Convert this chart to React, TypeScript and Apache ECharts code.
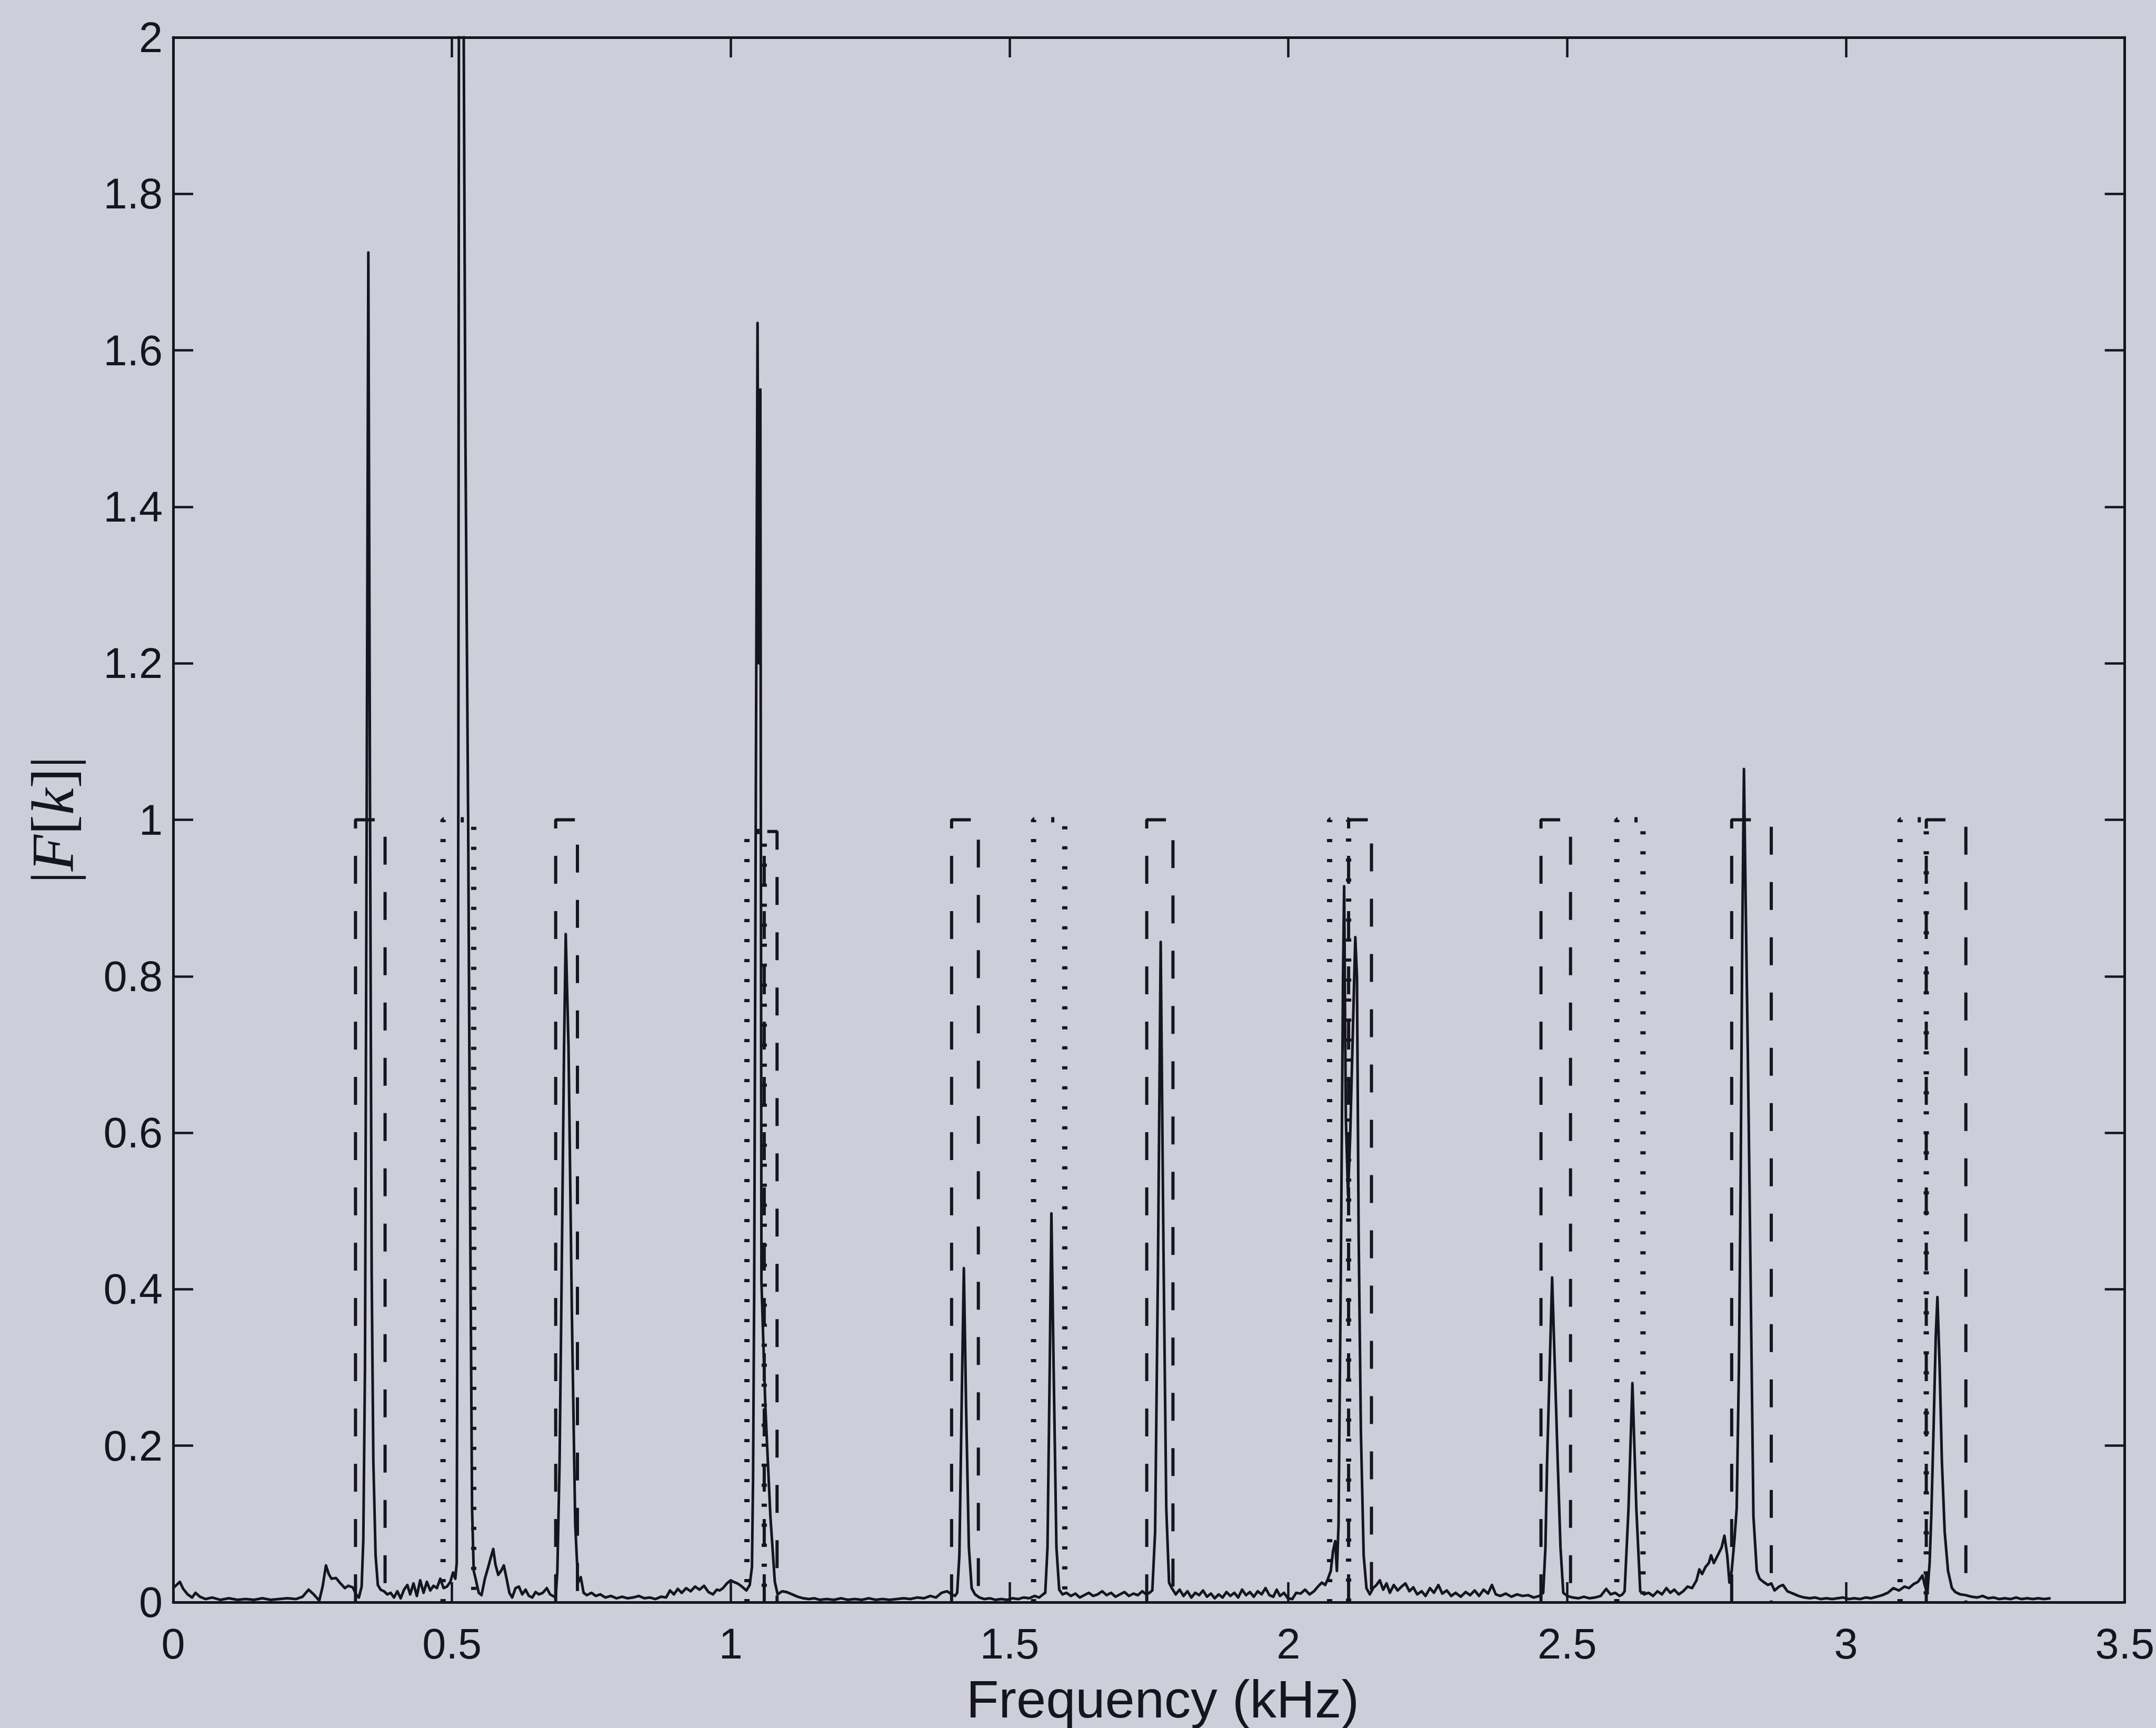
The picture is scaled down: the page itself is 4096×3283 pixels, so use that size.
import React, { useEffect, useRef } from "react";
import * as echarts from "echarts";

// Magnitude spectrum |F[k]| of a two-note recording, with the pass bands
// of the harmonic filters drawn as dashed (lower note) and dotted (upper note) boxes.

const W = 4096;
const H = 3283;
const INK = "#15151d";
const PAPER = "#cecdda";

// [frequency (kHz), |F[k]|]
const spectrum: [number, number][] = [
  [0.0, 0.018], [0.006, 0.022], [0.012, 0.026], [0.018, 0.017], [0.026, 0.01], [0.034, 0.006],
  [0.04, 0.012], [0.048, 0.007], [0.058, 0.004], [0.07, 0.006], [0.085, 0.003], [0.1, 0.005],
  [0.115, 0.003], [0.13, 0.004], [0.145, 0.003], [0.16, 0.005], [0.175, 0.003], [0.19, 0.004],
  [0.205, 0.005], [0.22, 0.004], [0.232, 0.007], [0.243, 0.016], [0.252, 0.01], [0.262, 0.002],
  [0.268, 0.02], [0.274, 0.047], [0.279, 0.036], [0.284, 0.03], [0.292, 0.031], [0.3, 0.024],
  [0.308, 0.018], [0.314, 0.021], [0.322, 0.019], [0.328, 0.01], [0.333, 0.006],
  // peak near 0.35 kHz
  [0.338, 0.02], [0.341, 0.08], [0.344, 0.3], [0.347, 1.0], [0.35, 1.725], [0.353, 1.02],
  [0.356, 0.42], [0.359, 0.18], [0.363, 0.06], [0.367, 0.022], [0.372, 0.016], [0.378, 0.014],
  [0.384, 0.01], [0.39, 0.012], [0.396, 0.006], [0.402, 0.014], [0.408, 0.005], [0.414, 0.016],
  [0.42, 0.022], [0.425, 0.01], [0.431, 0.024], [0.437, 0.008], [0.443, 0.028], [0.449, 0.012],
  [0.455, 0.026], [0.461, 0.015], [0.467, 0.021], [0.473, 0.018], [0.479, 0.03], [0.485, 0.018],
  [0.491, 0.02], [0.497, 0.026], [0.502, 0.038], [0.506, 0.03],
  // peak near 0.52 kHz (runs off the top of the axes)
  [0.5085, 0.05], [0.5105, 0.6], [0.5115, 1.1], [0.5125, 2.1], [0.5165, 3.4], [0.5205, 2.1],
  [0.524, 1.5], [0.529, 1.0], [0.533, 0.45], [0.536, 0.12], [0.539, 0.04],
  [0.543, 0.028], [0.548, 0.012], [0.553, 0.009], [0.559, 0.03], [0.565, 0.045], [0.57, 0.058],
  [0.574, 0.068], [0.578, 0.048], [0.583, 0.035], [0.588, 0.04], [0.593, 0.047], [0.598, 0.03],
  [0.603, 0.012], [0.608, 0.006], [0.614, 0.018], [0.62, 0.02], [0.626, 0.01], [0.632, 0.016],
  [0.638, 0.008], [0.644, 0.006], [0.65, 0.013], [0.656, 0.01], [0.663, 0.012], [0.67, 0.018],
  [0.676, 0.01], [0.681, 0.008],
  // peak near 0.70 kHz
  [0.686, 0.006], [0.689, 0.04], [0.693, 0.18], [0.696, 0.37], [0.701, 0.71], [0.704, 0.854],
  [0.709, 0.71], [0.715, 0.37], [0.721, 0.1], [0.726, 0.025], [0.731, 0.032], [0.736, 0.012],
  [0.742, 0.009], [0.75, 0.012], [0.758, 0.008], [0.766, 0.01], [0.775, 0.006], [0.785, 0.008],
  [0.795, 0.005], [0.805, 0.007], [0.815, 0.005], [0.825, 0.006], [0.835, 0.008], [0.845, 0.005],
  [0.855, 0.006], [0.865, 0.004], [0.875, 0.007], [0.884, 0.006], [0.891, 0.015], [0.898, 0.01],
  [0.905, 0.017], [0.912, 0.012], [0.92, 0.018], [0.928, 0.014], [0.936, 0.02], [0.944, 0.016],
  [0.952, 0.021], [0.96, 0.013], [0.968, 0.01], [0.975, 0.016], [0.98, 0.015], [0.986, 0.018],
  [0.993, 0.024], [1.0, 0.028], [1.005, 0.026], [1.012, 0.024], [1.02, 0.02], [1.028, 0.015],
  [1.034, 0.022],
  // peak near 1.05 kHz
  [1.038, 0.045], [1.04, 0.16], [1.042, 0.4], [1.045, 1.05], [1.048, 1.635], [1.05, 1.2],
  [1.053, 1.55], [1.055, 0.41], [1.062, 0.25], [1.071, 0.11], [1.079, 0.026], [1.084, 0.01],
  [1.092, 0.014], [1.1, 0.013], [1.11, 0.01], [1.12, 0.007], [1.13, 0.005], [1.14, 0.004],
  [1.15, 0.005], [1.16, 0.003], [1.172, 0.004], [1.185, 0.003], [1.198, 0.005], [1.21, 0.003],
  [1.222, 0.004], [1.235, 0.003], [1.248, 0.005], [1.26, 0.003], [1.272, 0.004], [1.285, 0.003],
  [1.298, 0.004], [1.31, 0.005], [1.322, 0.004], [1.334, 0.006], [1.346, 0.005], [1.358, 0.008],
  [1.368, 0.006], [1.378, 0.012], [1.388, 0.014], [1.396, 0.01], [1.402, 0.008],
  // peak near 1.42 kHz
  [1.406, 0.012], [1.41, 0.06], [1.414, 0.25], [1.418, 0.427], [1.422, 0.25], [1.427, 0.07],
  [1.432, 0.018], [1.438, 0.01], [1.446, 0.006], [1.455, 0.004], [1.465, 0.005], [1.475, 0.003],
  [1.485, 0.004], [1.495, 0.003], [1.505, 0.005], [1.515, 0.004], [1.525, 0.006], [1.535, 0.005],
  [1.545, 0.008], [1.553, 0.006], [1.56, 0.01],
  // peak near 1.575 kHz
  [1.564, 0.012], [1.568, 0.07], [1.572, 0.3], [1.575, 0.497], [1.579, 0.3], [1.584, 0.07],
  [1.589, 0.016], [1.595, 0.01], [1.602, 0.012], [1.61, 0.008], [1.618, 0.011], [1.626, 0.006],
  [1.634, 0.009], [1.642, 0.012], [1.65, 0.008], [1.658, 0.01], [1.666, 0.014], [1.674, 0.009],
  [1.682, 0.012], [1.69, 0.007], [1.698, 0.01], [1.706, 0.013], [1.714, 0.008], [1.722, 0.011],
  [1.73, 0.009], [1.738, 0.014], [1.745, 0.01], [1.751, 0.012],
  // peak near 1.77 kHz
  [1.756, 0.015], [1.761, 0.09], [1.766, 0.42], [1.771, 0.844], [1.776, 0.45], [1.781, 0.12],
  [1.786, 0.025], [1.791, 0.018], [1.798, 0.01], [1.805, 0.016], [1.812, 0.008], [1.819, 0.014],
  [1.826, 0.006], [1.833, 0.012], [1.84, 0.009], [1.847, 0.015], [1.854, 0.007], [1.861, 0.011],
  [1.868, 0.005], [1.875, 0.01], [1.882, 0.006], [1.889, 0.013], [1.896, 0.008], [1.903, 0.012],
  [1.91, 0.006], [1.917, 0.016], [1.924, 0.009], [1.931, 0.013], [1.938, 0.007], [1.945, 0.014],
  [1.952, 0.01], [1.959, 0.018], [1.966, 0.009], [1.973, 0.007], [1.979, 0.016], [1.985, 0.008],
  [1.992, 0.012], [1.999, 0.005], [2.007, 0.004], [2.014, 0.012], [2.022, 0.011], [2.03, 0.016],
  [2.038, 0.01], [2.046, 0.014], [2.053, 0.02], [2.06, 0.025], [2.066, 0.022], [2.071, 0.03],
  [2.076, 0.04], [2.08, 0.065], [2.084, 0.078], [2.087, 0.04],
  // double peak near 2.1 kHz
  [2.09, 0.1], [2.094, 0.42], [2.098, 0.8], [2.1, 0.915], [2.103, 0.62], [2.107, 0.52],
  [2.111, 0.6], [2.116, 0.74], [2.12, 0.85], [2.123, 0.8], [2.126, 0.47], [2.13, 0.22],
  [2.135, 0.06], [2.14, 0.018], [2.146, 0.01], [2.152, 0.018], [2.158, 0.022], [2.164, 0.028],
  [2.17, 0.016], [2.176, 0.024], [2.182, 0.012], [2.189, 0.022], [2.196, 0.015], [2.203, 0.02],
  [2.21, 0.024], [2.217, 0.014], [2.224, 0.019], [2.231, 0.01], [2.239, 0.014], [2.246, 0.008],
  [2.254, 0.018], [2.261, 0.012], [2.269, 0.022], [2.276, 0.011], [2.284, 0.015], [2.292, 0.008],
  [2.3, 0.012], [2.309, 0.007], [2.318, 0.013], [2.326, 0.009], [2.334, 0.015], [2.342, 0.008],
  [2.35, 0.016], [2.358, 0.011], [2.365, 0.022], [2.372, 0.01], [2.38, 0.008], [2.39, 0.011],
  [2.4, 0.007], [2.41, 0.01], [2.42, 0.008], [2.43, 0.009], [2.44, 0.006], [2.45, 0.008],
  // peak near 2.47 kHz
  [2.457, 0.012], [2.461, 0.07], [2.464, 0.18], [2.473, 0.415], [2.483, 0.18], [2.488, 0.07],
  [2.493, 0.012], [2.5, 0.008], [2.51, 0.006], [2.52, 0.005], [2.53, 0.007], [2.54, 0.005],
  [2.55, 0.006], [2.56, 0.008], [2.57, 0.017], [2.578, 0.01], [2.586, 0.012], [2.594, 0.008],
  [2.599, 0.01],
  // peak near 2.62 kHz
  [2.603, 0.014], [2.61, 0.12], [2.617, 0.28], [2.624, 0.12], [2.631, 0.014], [2.638, 0.01],
  [2.646, 0.012], [2.654, 0.008], [2.662, 0.014], [2.67, 0.01], [2.678, 0.018], [2.685, 0.012],
  [2.692, 0.016], [2.7, 0.01], [2.708, 0.014], [2.716, 0.02], [2.724, 0.018], [2.732, 0.028],
  [2.737, 0.042], [2.742, 0.036], [2.748, 0.045], [2.754, 0.05], [2.758, 0.06], [2.763, 0.05],
  [2.77, 0.06], [2.777, 0.07], [2.782, 0.085], [2.787, 0.06], [2.791, 0.025],
  // peak near 2.82 kHz
  [2.795, 0.04], [2.8, 0.08], [2.804, 0.12], [2.808, 0.3], [2.811, 0.53], [2.814, 0.85],
  [2.817, 1.065], [2.82, 0.9], [2.824, 0.7], [2.827, 0.53], [2.834, 0.11], [2.84, 0.04],
  [2.845, 0.03], [2.852, 0.026], [2.86, 0.022], [2.866, 0.024], [2.872, 0.015], [2.88, 0.02],
  [2.887, 0.022], [2.895, 0.014], [2.905, 0.011], [2.915, 0.008], [2.925, 0.006], [2.935, 0.005],
  [2.945, 0.006], [2.955, 0.004], [2.965, 0.005], [2.975, 0.004], [2.985, 0.005], [2.995, 0.006],
  [3.005, 0.004], [3.015, 0.005], [3.025, 0.004], [3.035, 0.006], [3.045, 0.005], [3.055, 0.007],
  [3.065, 0.009], [3.075, 0.012], [3.085, 0.018], [3.095, 0.015], [3.105, 0.02], [3.113, 0.018],
  [3.121, 0.023], [3.129, 0.026], [3.137, 0.034], [3.142, 0.02], [3.146, 0.012],
  // peak near 3.16 kHz
  [3.15, 0.05], [3.153, 0.11], [3.157, 0.22], [3.161, 0.34], [3.164, 0.39], [3.168, 0.3],
  [3.172, 0.18], [3.177, 0.09], [3.183, 0.04], [3.19, 0.018], [3.196, 0.013], [3.205, 0.01],
  [3.215, 0.009], [3.225, 0.007], [3.235, 0.006], [3.245, 0.008], [3.255, 0.005], [3.265, 0.006],
  [3.275, 0.004], [3.285, 0.005], [3.295, 0.004], [3.305, 0.006], [3.315, 0.004], [3.325, 0.005],
  [3.335, 0.004], [3.345, 0.005], [3.355, 0.004], [3.367, 0.005],
];

// Filter pass bands: [low edge (kHz), high edge (kHz), gain]
const dashedBands: [number, number, number][] = [
  [0.327, 0.38, 1],
  [0.686, 0.725, 1],
  [1.06, 1.083, 0.985],
  [1.396, 1.444, 1],
  [1.746, 1.793, 1],
  [2.108, 2.149, 1],
  [2.453, 2.506, 1],
  [2.795, 2.866, 1],
  [3.144, 3.215, 1],
];

const dottedBands: [number, number, number][] = [
  [0.484, 0.539, 1],
  [1.029, 1.06, 0.985],
  [1.543, 1.599, 1],
  [2.074, 2.108, 1],
  [2.589, 2.636, 1],
  [3.097, 3.144, 1],
];

// Axis ranges and tick steps
const xRange = [0, 3.5];
const xStep = 0.5;
const yRange = [0, 2];
const yStep = 0.2;

const xTitle = "Frequency (kHz)";
const yTitle = "|{i|F}[{i|k}]|";

const SANS = "Liberation Sans, Arial, Helvetica, sans-serif";
const SERIF = "Liberation Serif, Times New Roman, serif";

function bandOutline(b: [number, number, number]): [number, number][] {
  const [lo, hi, g] = b;
  return [
    [lo, 0],
    [lo, g],
    [hi, g],
    [hi, 0],
  ];
}

export default function App() {
  const ref = useRef<HTMLDivElement>(null);

  useEffect(() => {
    if (!ref.current) return;
    const chart = echarts.init(ref.current, undefined, { renderer: "svg" });

    // Every axis stays on its own edge of the box
    const axisLine = { show: true, onZero: false, lineStyle: { color: INK, width: 5 } };
    const tick = { show: true, inside: true, length: 38, lineStyle: { color: INK, width: 4.5 } };
    const tickLabel = { fontFamily: SANS, fontSize: 81, color: INK };

    const dashedSeries = dashedBands.map((b) => ({
      type: "line",
      data: bandOutline(b),
      symbol: "none",
      silent: true,
      z: 2,
      lineStyle: { color: INK, width: 6, type: [53, 52], cap: "butt" },
    }));

    const dottedSeries = dottedBands.map((b) => ({
      type: "line",
      data: bandOutline(b),
      symbol: "none",
      silent: true,
      z: 2,
      lineStyle: { color: INK, width: 10, type: [6, 32], cap: "butt" },
    }));

    chart.setOption({
      animation: false,
      backgroundColor: PAPER,
      grid: { left: 329, right: 53, top: 71, bottom: 237, containLabel: false },
      xAxis: [
        {
          type: "value",
          position: "bottom",
          min: xRange[0],
          max: xRange[1],
          interval: xStep,
          axisLine,
          axisTick: tick,
          splitLine: { show: false },
          axisLabel: { ...tickLabel, margin: 38 },
          name: xTitle,
          nameLocation: "middle",
          nameGap: 133,
          nameTextStyle: { fontFamily: SANS, fontSize: 101, color: INK, padding: [0, 0, 0, 52] },
        },
        {
          type: "value",
          position: "top",
          min: xRange[0],
          max: xRange[1],
          interval: xStep,
          axisLine,
          axisTick: tick,
          splitLine: { show: false },
          axisLabel: { show: false },
        },
      ],
      yAxis: [
        {
          type: "value",
          position: "left",
          min: yRange[0],
          max: yRange[1],
          interval: yStep,
          axisLine,
          axisTick: tick,
          splitLine: { show: false },
          axisLabel: { ...tickLabel, margin: 20 },
          name: yTitle,
          nameLocation: "middle",
          nameGap: 172,
          nameRotate: 90,
          nameTextStyle: {
            fontFamily: SERIF,
            fontSize: 114,
            color: INK,
            rich: {
              i: { fontFamily: SERIF, fontStyle: "italic", fontSize: 114, color: INK },
            },
          },
        },
        {
          type: "value",
          position: "right",
          min: yRange[0],
          max: yRange[1],
          interval: yStep,
          axisLine,
          axisTick: tick,
          splitLine: { show: false },
          axisLabel: { show: false },
        },
      ],
      series: [
        ...dashedSeries,
        ...dottedSeries,
        {
          type: "line",
          data: spectrum,
          symbol: "none",
          silent: true,
          z: 3,
          clip: true,
          lineStyle: { color: INK, width: 5, join: "round" },
        },
      ],
    });

    return () => chart.dispose();
  }, []);

  return (
    <div
      ref={ref}
      style={{ position: "absolute", left: 0, top: 0, width: W, height: H, background: PAPER }}
    />
  );
}
